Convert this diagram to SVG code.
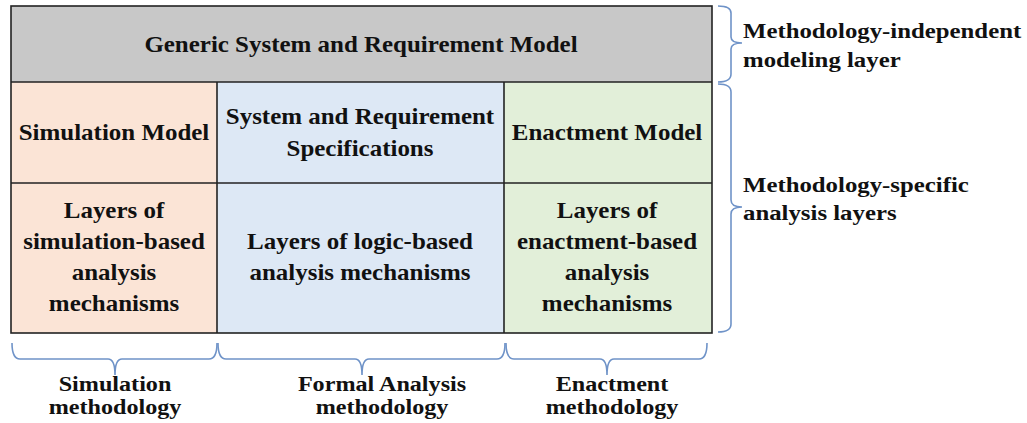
<svg xmlns="http://www.w3.org/2000/svg" width="1027" height="423" viewBox="0 0 1027 423">
<style>
text{font-family:"Times New Roman","Liberation Serif","DejaVu Serif",serif;font-weight:700;fill:#111;text-anchor:middle}
.c{font-size:24px}
.r{font-size:20px;text-anchor:start}
.b{font-size:21px}
.ln{stroke:#222;stroke-width:1.6;fill:none}
.br{stroke:#6f93c8;stroke-width:1.6;fill:none}
</style>
<rect width="1027" height="423" fill="#fff"/>
<g id="generic">
<rect x="11" y="6" width="701" height="76" fill="#c8c8c8"/>
<text class="c" transform="translate(361,52) scale(1.04,1)">Generic System and Requirement Model</text>
</g>
<g id="simModel">
<rect x="11" y="82" width="206" height="101" fill="#fbe4d6"/>
<text class="c" transform="translate(114,140) scale(1.04,1)">Simulation Model</text>
</g>
<g id="sysSpec">
<rect x="217" y="82" width="287" height="101" fill="#dde8f5"/>
<text class="c" transform="translate(360,124) scale(1.04,1)">System and Requirement</text>
<text class="c" transform="translate(360,156) scale(1.04,1)">Specifications</text>
</g>
<g id="enactModel">
<rect x="504" y="82" width="208" height="101" fill="#e2efd9"/>
<text class="c" transform="translate(607,140) scale(1.04,1)">Enactment Model</text>
</g>
<g id="simLayers">
<rect x="11" y="183" width="206" height="150" fill="#fbe4d6"/>
<text class="c" transform="translate(114,218) scale(1.04,1)">Layers of</text>
<text class="c" transform="translate(114,249) scale(1.04,1)">simulation-based</text>
<text class="c" transform="translate(114,280) scale(1.04,1)">analysis</text>
<text class="c" transform="translate(114,311) scale(1.04,1)">mechanisms</text>
</g>
<g id="logicLayers">
<rect x="217" y="183" width="287" height="150" fill="#dde8f5"/>
<text class="c" transform="translate(360,249) scale(1.04,1)">Layers of logic-based</text>
<text class="c" transform="translate(360,280) scale(1.04,1)">analysis mechanisms</text>
</g>
<g id="enactLayers">
<rect x="504" y="183" width="208" height="150" fill="#e2efd9"/>
<text class="c" transform="translate(607,218) scale(1.04,1)">Layers of</text>
<text class="c" transform="translate(607,249) scale(1.04,1)">enactment-based</text>
<text class="c" transform="translate(607,280) scale(1.04,1)">analysis</text>
<text class="c" transform="translate(607,311) scale(1.04,1)">mechanisms</text>
</g>
<g id="grid">
<rect class="ln" x="11" y="6" width="701" height="327"/>
<line class="ln" x1="11" y1="82" x2="712" y2="82"/>
<line class="ln" x1="11" y1="183" x2="712" y2="183"/>
<line class="ln" x1="217" y1="82" x2="217" y2="333"/>
<line class="ln" x1="504" y1="82" x2="504" y2="333"/>
</g>
<g id="connectors">
<path class="br" d="M718,6 Q731,6 731,13 L731,37 Q731,43 742,43 Q731,43 731,49 L731,74 Q731,82 718,82"/>
<path class="br" d="M718,84 Q731,84 731,92 L731,200 Q731,207 742,207 Q731,207 731,214 L731,324 Q731,332 718,332"/>
<path class="br" d="M12,343 Q12,359 20,359 L108,359 Q115,359 115,375 Q115,359 122,359 L209,359 Q217,359 217,343"/>
<path class="br" d="M218,343 Q218,359 226,359 L355,359 Q362,359 362,375 Q362,359 369,359 L497,359 Q505,359 505,343"/>
<path class="br" d="M506,343 Q506,359 514,359 L600,359 Q607,359 607,375 Q607,359 614,359 L699,359 Q707,359 707,343"/>
</g>
<g id="rightLabels">
<text class="r" transform="translate(743,38) scale(1.24,1)">Methodology-independent</text>
<text class="r" transform="translate(743,67) scale(1.24,1)">modeling layer</text>
<text class="r" transform="translate(743,192) scale(1.24,1)">Methodology-specific</text>
<text class="r" transform="translate(743,220) scale(1.24,1)">analysis layers</text>
</g>
<g id="bottomLabels">
<text class="b" transform="translate(115,391) scale(1.15,1)">Simulation</text>
<text class="b" transform="translate(115,414) scale(1.15,1)">methodology</text>
<text class="b" transform="translate(382,391) scale(1.15,1)">Formal Analysis</text>
<text class="b" transform="translate(382,414) scale(1.15,1)">methodology</text>
<text class="b" transform="translate(612,391) scale(1.15,1)">Enactment</text>
<text class="b" transform="translate(612,414) scale(1.15,1)">methodology</text>
</g>
</svg>
